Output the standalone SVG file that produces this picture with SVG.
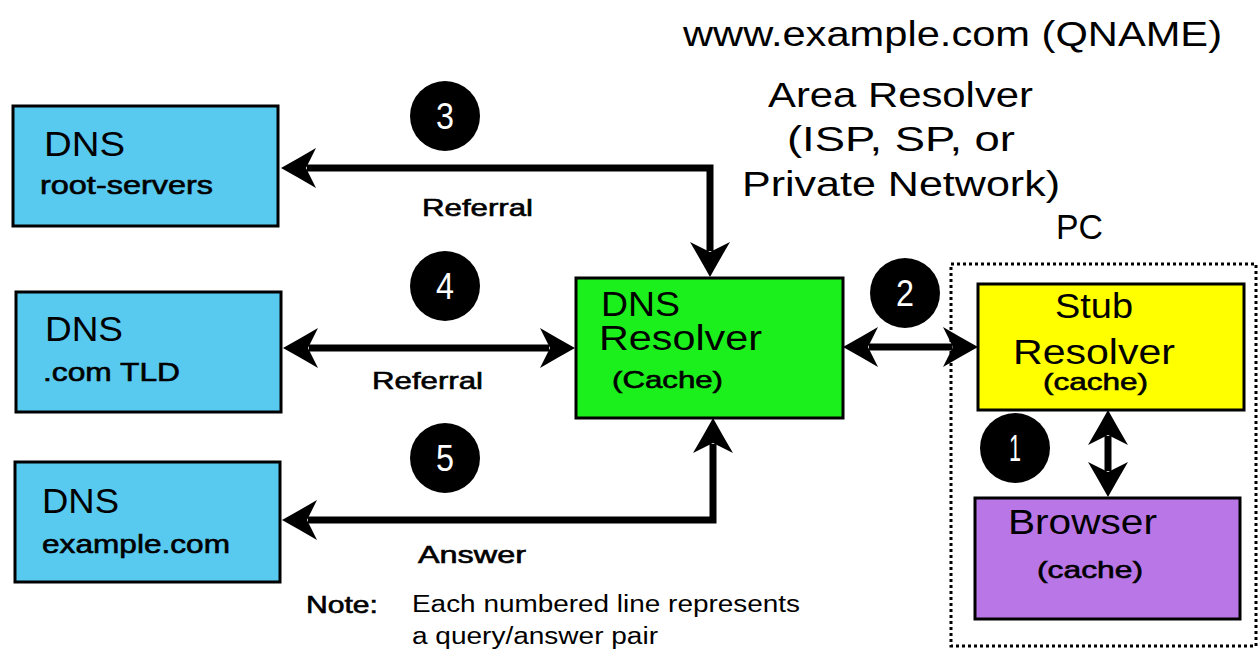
<svg xmlns="http://www.w3.org/2000/svg" width="1259" height="650" viewBox="0 0 1259 650">
<style>
text{font-family:"Liberation Sans",Arial,sans-serif;fill:#000}
.big{font-size:35px}
.med{font-size:26px;stroke:#000;stroke-width:0.6}
.lbl{font-size:24px;stroke:#000;stroke-width:0.6}
.note{font-size:23px}
.num{font-size:36px;fill:#fff;text-anchor:middle}
.box{stroke:#000;stroke-width:3}
.conn{fill:none;stroke:#000;stroke-width:7;marker-start:url(#ah);marker-end:url(#ah)}
</style>
<defs>
<marker id="ah" markerUnits="userSpaceOnUse" markerWidth="40" markerHeight="44" viewBox="0 0 40 44" refX="12" refY="22" orient="auto-start-reverse">
<path d="M38,22 Q20,12 3,2 L13,22 L3,42 Q20,32 38,22 Z" fill="#000"/>
</marker>
</defs>
<rect width="1259" height="650" fill="#fff"/>

<g id="title">
<text class="big" x="683" y="46" textLength="539" lengthAdjust="spacingAndGlyphs">www.example.com (QNAME)</text>
<text class="big" x="768" y="107" textLength="265" lengthAdjust="spacingAndGlyphs">Area Resolver</text>
<text class="big" x="787" y="151" textLength="228" lengthAdjust="spacingAndGlyphs">(ISP, SP, or</text>
<text class="big" x="742" y="196" textLength="318" lengthAdjust="spacingAndGlyphs">Private Network)</text>
</g>

<g id="pc">
<rect x="951" y="264" width="305" height="382" fill="none" stroke="#000" stroke-width="3" stroke-dasharray="3,3"/>
<text class="big" x="1056" y="239" textLength="47" lengthAdjust="spacingAndGlyphs">PC</text>
</g>

<g id="connectors">
<path class="conn" d="M307,168 H710 V251"/>
<path class="conn" d="M309,348 H549"/>
<path class="conn" d="M308,520 H713 V444"/>
<path class="conn" d="M869,347 H952"/>
<path class="conn" d="M1108,436 V471"/>
</g>

<g id="root">
<rect class="box" x="13" y="106" width="265" height="120" fill="#58c9ef"/>
<text class="big" x="44" y="156" textLength="81" lengthAdjust="spacingAndGlyphs">DNS</text>
<text class="med" x="40" y="194" textLength="173" lengthAdjust="spacingAndGlyphs">root-servers</text>
</g>

<g id="tld">
<rect class="box" x="16" y="292" width="265" height="120" fill="#58c9ef"/>
<text class="big" x="45" y="341" textLength="78" lengthAdjust="spacingAndGlyphs">DNS</text>
<text class="med" x="43" y="381" textLength="137" lengthAdjust="spacingAndGlyphs">.com TLD</text>
</g>

<g id="example">
<rect class="box" x="15" y="462" width="265" height="120" fill="#58c9ef"/>
<text class="big" x="42" y="513" textLength="77" lengthAdjust="spacingAndGlyphs">DNS</text>
<text class="med" x="42" y="553" textLength="188" lengthAdjust="spacingAndGlyphs">example.com</text>
</g>

<g id="resolver">
<rect class="box" x="576" y="278" width="267" height="140" fill="#1cf01c"/>
<text class="big" x="601" y="316" textLength="79" lengthAdjust="spacingAndGlyphs">DNS</text>
<text class="big" x="599" y="350" textLength="163" lengthAdjust="spacingAndGlyphs">Resolver</text>
<text class="lbl" x="612" y="388" textLength="111" lengthAdjust="spacingAndGlyphs">(Cache)</text>
</g>

<g id="stub">
<rect class="box" x="978" y="284" width="266" height="126" fill="#ffff00"/>
<text class="big" x="1055" y="318" textLength="78" lengthAdjust="spacingAndGlyphs">Stub</text>
<text class="big" x="1013" y="364" textLength="162" lengthAdjust="spacingAndGlyphs">Resolver</text>
<text class="lbl" x="1043" y="390" textLength="105" lengthAdjust="spacingAndGlyphs">(cache)</text>
</g>

<g id="browser">
<rect class="box" x="975" y="498" width="265" height="121" fill="#b976e6"/>
<text class="big" x="1008" y="534" textLength="149" lengthAdjust="spacingAndGlyphs">Browser</text>
<text class="lbl" x="1037" y="578" textLength="106" lengthAdjust="spacingAndGlyphs">(cache)</text>
</g>

<g id="labels">
<text class="lbl" x="422" y="216" textLength="111" lengthAdjust="spacingAndGlyphs">Referral</text>
<text class="lbl" x="372" y="389" textLength="111" lengthAdjust="spacingAndGlyphs">Referral</text>
<text class="lbl" x="418" y="563" textLength="108" lengthAdjust="spacingAndGlyphs">Answer</text>
</g>

<g id="badges">
<circle cx="445" cy="116" r="35" fill="#000"/><text class="num" x="445" y="129" textLength="18" lengthAdjust="spacingAndGlyphs">3</text>
<circle cx="445" cy="286" r="35" fill="#000"/><text class="num" x="445" y="299" textLength="18" lengthAdjust="spacingAndGlyphs">4</text>
<circle cx="445" cy="458" r="35" fill="#000"/><text class="num" x="445" y="471" textLength="18" lengthAdjust="spacingAndGlyphs">5</text>
<circle cx="905" cy="293" r="35" fill="#000"/><text class="num" x="905" y="306" textLength="18" lengthAdjust="spacingAndGlyphs">2</text>
<circle cx="1015" cy="448" r="35" fill="#000"/><text class="num" x="1015" y="461" textLength="12" lengthAdjust="spacingAndGlyphs">1</text>
</g>

<g id="note">
<text class="lbl" x="306" y="613" textLength="72" lengthAdjust="spacingAndGlyphs">Note:</text>
<text class="note" x="412" y="612" textLength="388" lengthAdjust="spacingAndGlyphs">Each numbered line represents</text>
<text class="note" x="412" y="644" textLength="246" lengthAdjust="spacingAndGlyphs">a query/answer pair</text>
</g>
</svg>
